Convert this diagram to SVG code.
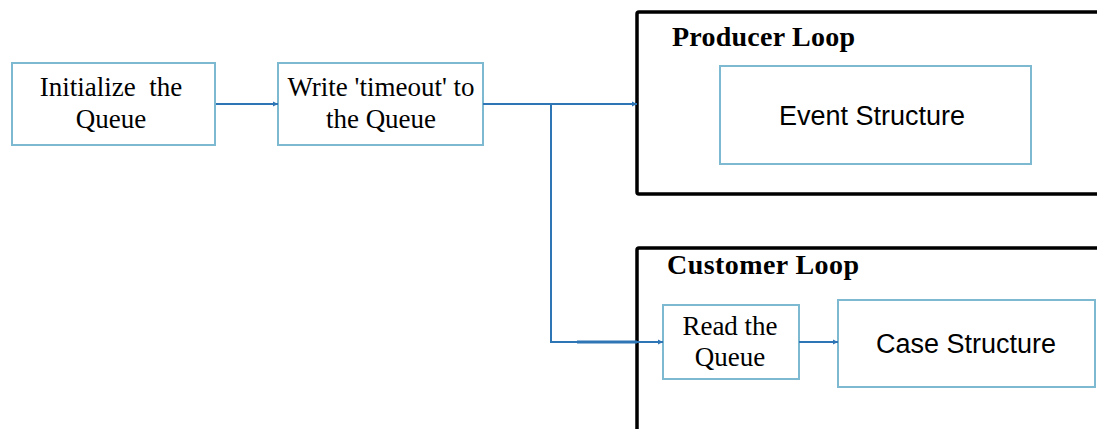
<svg xmlns="http://www.w3.org/2000/svg" width="1097" height="429" viewBox="0 0 1097 429">
<style>
.box{fill:#fff;stroke:#7db9d1;stroke-width:2}
.loop{fill:#fff;stroke:#000;stroke-width:3.5}
.serif{font-family:"Liberation Serif","Times New Roman",serif;font-size:27px;fill:#000;text-anchor:middle}
.bold{font-family:"Liberation Serif","Times New Roman",serif;font-size:28px;font-weight:bold;fill:#000}
.sans{font-family:"Liberation Sans",Arial,sans-serif;font-size:27px;fill:#000;text-anchor:middle}
.wire{fill:none;stroke:#2e75b6;stroke-width:2}
</style>
<defs>
<marker id="arr" markerUnits="userSpaceOnUse" markerWidth="6" markerHeight="6" refX="5" refY="3" orient="auto" viewBox="0 0 6 6">
<path d="M0,0.5 L5,3 L0,5.5 z" fill="#2e75b6"/>
</marker>
</defs>
<rect width="1097" height="429" fill="#fff"/>
<g id="producer-loop">
<rect class="loop" x="637" y="12" width="480" height="182" rx="2"/>
<text class="bold" x="672" y="46" textLength="183" lengthAdjust="spacing">Producer Loop</text>
</g>
<g id="customer-loop">
<rect class="loop" x="637" y="248" width="480" height="220" rx="2"/>
<text class="bold" x="667" y="274" textLength="192" lengthAdjust="spacing">Customer Loop</text>
</g>
<g id="initialize">
<rect class="box" x="12" y="63" width="203" height="82"/>
<text class="serif" x="111" y="96" xml:space="preserve">Initialize  the</text>
<text class="serif" x="111" y="128">Queue</text>
</g>
<g id="write-timeout">
<rect class="box" x="278" y="63" width="205" height="82"/>
<text class="serif" x="381" y="96">Write 'timeout' to</text>
<text class="serif" x="381" y="128">the Queue</text>
</g>
<g id="event-structure">
<rect class="box" x="720" y="66" width="311" height="98"/>
<text class="sans" x="872" y="125">Event Structure</text>
</g>
<g id="read-queue">
<rect class="box" x="663" y="305" width="136" height="74"/>
<text class="serif" x="730" y="335">Read the</text>
<text class="serif" x="730" y="366">Queue</text>
</g>
<g id="case-structure">
<rect class="box" x="838" y="300" width="257" height="87"/>
<text class="sans" x="966" y="353">Case Structure</text>
</g>
<g id="connectors">
<line class="wire" x1="216" y1="104" x2="278" y2="104" marker-end="url(#arr)"/>
<line class="wire" x1="483" y1="104" x2="637" y2="104" marker-end="url(#arr)"/>
<polyline class="wire" points="551,104 551,342 663,342" marker-end="url(#arr)"/>
<line stroke="#2e75b6" stroke-width="3" x1="577" y1="342" x2="637" y2="342"/>
<line class="wire" x1="799" y1="342" x2="838" y2="342" marker-end="url(#arr)"/>
</g>
</svg>
